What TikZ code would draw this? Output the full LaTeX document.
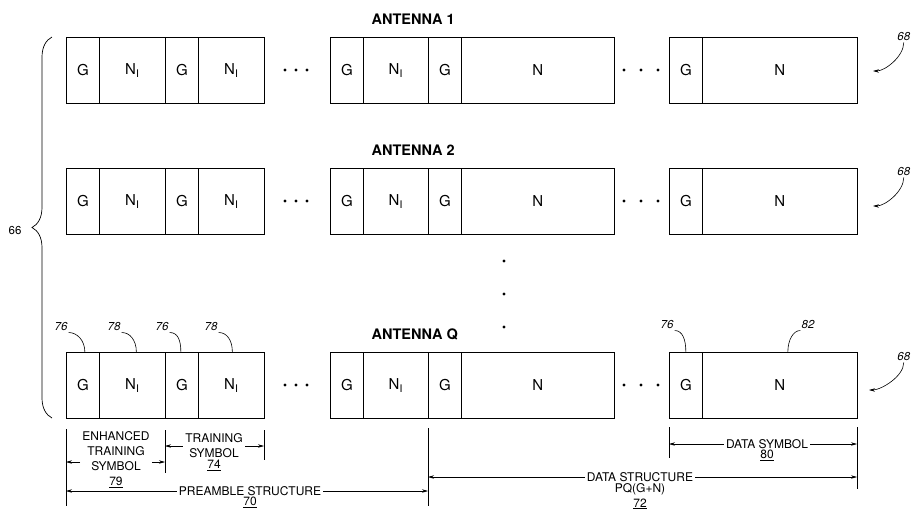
\documentclass[tikz,border=0pt]{standalone}
\usepackage{fontspec}
\setmainfont{TeX Gyre Heros}
\usepackage{tikz}
\usetikzlibrary{arrows.meta,decorations.pathreplacing,positioning}
\newcommand{\Nsub}{N\textsubscript{I}}
\tikzset{every picture/.style={line width=.7pt}}

\begin{document}
\begin{tikzpicture}[x=1pt,y=-1pt,>={Stealth[length=6pt,width=3.4pt]},
 cell/.style={draw,minimum height=66pt,inner sep=0pt,anchor=north west,
  font=\fontsize{15}{17}\selectfont},
 antlbl/.style={anchor=west,font=\bfseries\fontsize{14.5}{16}\selectfont},
 reflbl/.style={inner sep=1pt,font=\itshape\fontsize{11.5}{13}\selectfont},
 dimtxt/.style={align=center,inner sep=2pt,font=\fontsize{12}{15}\selectfont},
 extline/.style={line width=.6pt},
 dimline/.style={->,line width=.6pt}]
 \useasboundingbox (0,0) rectangle (914,517);

 % one row of symbols per antenna
 \foreach \r/\yt/\ant in {1/37/1,2/168/2,q/352/Q}{
  \foreach \c/\xa/\cw/\txt in {g1/66/33/G,i1/99/66/\Nsub,g2/165/33/G,i2/198/66/\Nsub,
   g3/330/33/G,i3/363/65/\Nsub,g4/428/33/G,n1/461/153/N,g5/669/33/G,n2/702/155/N}
   \node[cell,minimum width=\cw pt] (\r\c) at (\xa,\yt) {\txt};
  \node[antlbl] (ant\r) at (368,\yt-18) {ANTENNA \ant};
  \foreach \xd in {285,296,307,624,641,658}
   \fill (\xd,\yt+33) circle (1.6);
 }
 \foreach \yd in {261,294,327}
  \fill (504,\yd) circle (1.6);

 % row labels 68 and bracket 66
 \node[reflbl,anchor=west] (l68a) at (896,37) {68};
 \node[reflbl,anchor=west] (l68b) at (896,172) {68};
 \node[reflbl,anchor=west] (l68c) at (896,357) {68};
 \coordinate (t68a) at (873,71);
 \coordinate (t68b) at (873,206);
 \coordinate (t68c) at (869,390);
 \foreach \s in {a,b,c}
  \draw[->,line width=.6pt] (l68\s.south) .. controls +(0,14) and +(12,0) .. (t68\s);
 \draw[decorate,decoration={brace,amplitude=20pt}] (52,418) -- (52,37);
 \node[reflbl,font=\fontsize{11.5}{13}\selectfont] (l66) at (15,231) {66};

 % reference numerals of the last row
 \node[reflbl] (l76a) at (61,327) {76};
 \node[reflbl] (l78a) at (114,327) {78};
 \node[reflbl] (l76b) at (162,327) {76};
 \node[reflbl] (l78b) at (211,327) {78};
 \node[reflbl] (l76c) at (667,325) {76};
 \node[reflbl] (l82) at (808,325) {82};
 \draw[line width=.6pt] (l76a.south east) .. controls +(8,0) and +(0,-12) .. ([xshift=2pt]qg1.north);
 \draw[line width=.6pt] (l78a.south east) .. controls +(8,0) and +(0,-12) .. ([xshift=4pt]qi1.north);
 \draw[line width=.6pt] (l76b.south east) .. controls +(8,0) and +(0,-12) .. ([xshift=-1pt]qg2.north);
 \draw[line width=.6pt] (l78b.south east) .. controls +(8,0) and +(0,-12) .. ([xshift=1pt]qi2.north);
 \draw[line width=.6pt] (l76c.south east) .. controls +(8,0) and +(0,-12) .. ([xshift=0pt]qg5.north);
 \draw[line width=.6pt] (l82.south west) .. controls +(-7,0) and +(0,-12) .. ([xshift=8pt]qn2.north);

 % extension lines below the last row
 \draw[extline] (66,429) coordinate (e1) -- (66,506);
 \draw[extline] (165,430) coordinate (e2) -- (165,473);
 \draw[extline] (264,430) coordinate (e3) -- (264,460);
 \draw[extline] (428,428) coordinate (e4) -- (428,506);
 \draw[extline] (669,427) coordinate (e5) -- (669,458);
 \draw[extline] (857,427) coordinate (e6) -- (857,489);

 % dimensions
 \node[dimtxt] (ets) at (116,460) {ENHANCED\\TRAINING\\SYMBOL\\\underline{79}};
 \draw[dimline] ([yshift=-2pt]ets.west) -- ([yshift=-2pt]ets.west -| e1);
 \draw[dimline] ([yshift=-2pt]ets.east) -- ([yshift=-2pt]ets.east -| e2);
 \node[dimtxt] (ts) at (214,446) {TRAINING\\SYMBOL};
 \node[dimtxt,below=-3pt of ts] (n74) {\underline{74}};
 \draw[dimline] (ts.west) -- (ts.west -| e2);
 \draw[dimline] (ts.east) -- (ts.east -| e3);
 \node[dimtxt] (pre) at (250,491) {PREAMBLE STRUCTURE};
 \node[dimtxt,below=-3pt of pre] (n70) {\underline{70}};
 \draw[dimline] (pre.west) -- (pre.west -| e1);
 \draw[dimline] (pre.east) -- (pre.east -| e4);
 \node[dimtxt] (ds) at (767,444) {DATA SYMBOL};
 \node[dimtxt,below=-3pt of ds] (n80) {\underline{80}};
 \draw[dimline] (ds.west) -- (ds.west -| e5);
 \draw[dimline] (ds.east) -- (ds.east -| e6);
 \node[dimtxt] (dst) at (640,477) {DATA STRUCTURE};
 \node[dimtxt,below=-3pt of dst] (n72) {PQ(G+N)\\\underline{72}};
 \draw[dimline] (dst.west) -- (dst.west -| e4);
 \draw[dimline] (dst.east) -- (dst.east -| e6);
\end{tikzpicture}
\end{document}
